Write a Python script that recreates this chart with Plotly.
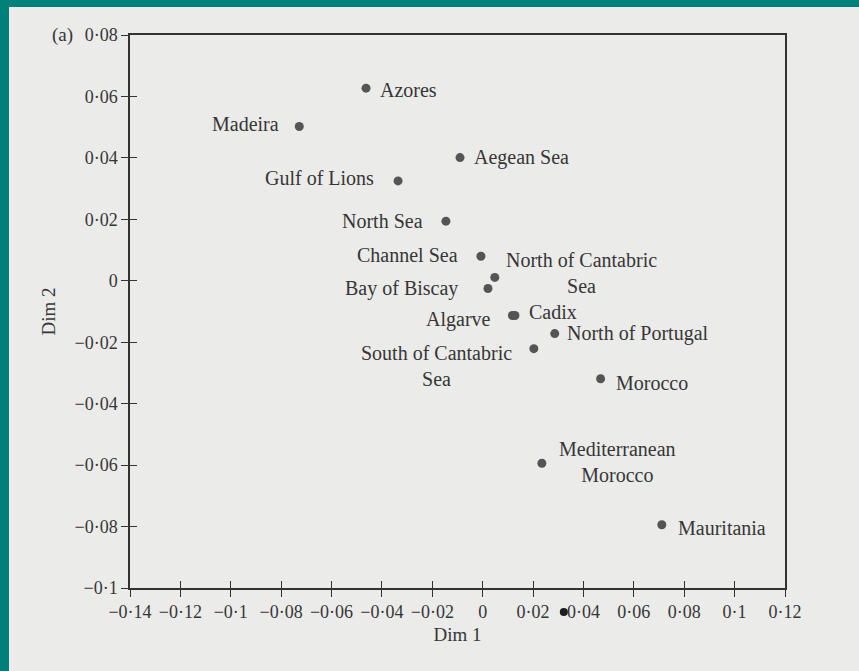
import plotly.graph_objects as go

# ---- data ----
regions = ["Azores", "Madeira", "Aegean Sea", "Gulf of Lions", "North Sea",
           "Channel Sea", "North of Cantabric<br>Sea", "Bay of Biscay", "Algarve",
           "Cadix", "North of Portugal", "South of Cantabric<br>Sea", "Morocco",
           "Mediterranean<br>Morocco", "Mauritania"]
dim1 = [-0.0463, -0.0728, -0.0090, -0.0336, -0.0146,
        -0.0007, 0.0048, 0.0021, 0.0118,
        0.0128, 0.0286, 0.0203, 0.0468,
        0.0235, 0.0711]
dim2 = [0.0627, 0.0502, 0.0401, 0.0325, 0.0194,
        0.0080, 0.0011, -0.0025, -0.0113,
        -0.0113, -0.0172, -0.0221, -0.0319,
        -0.0594, -0.0794]

x_ticks = [-0.14, -0.12, -0.1, -0.08, -0.06, -0.04, -0.02, 0, 0.02, 0.04, 0.06, 0.08, 0.1, 0.12]
x_tick_labels = ["\u22120\u00b714", "\u22120\u00b712", "\u22120\u00b71", "\u22120\u00b708", "\u22120\u00b706",
                 "\u22120\u00b704", "\u22120\u00b702", "0", "0\u00b702", "0\u00b704", "0\u00b706",
                 "0\u00b708", "0\u00b71", "0\u00b712"]
y_ticks = [-0.1, -0.08, -0.06, -0.04, -0.02, 0, 0.02, 0.04, 0.06, 0.08]
y_tick_labels = ["\u22120\u00b71", "\u22120\u00b708", "\u22120\u00b706", "\u22120\u00b704", "\u22120\u00b702",
                 "0", "0\u00b702", "0\u00b704", "0\u00b706", "0\u00b708"]

# ---- label placement (style only) ----
# (xanchor, xshift px, yshift px)
label_pos = [
    ("left", 12, -2), ("right", -18, 3), ("left", 12, 0), ("right", -22, 3), ("right", -21, 0),
    ("right", -21, 1), ("center", 87, 4), ("right", -28, 0), ("right", -19, -4),
    ("left", 12, 3), ("left", 10, 0), ("center", -97, -17), ("left", 13, -4),
    ("center", 76, 1), ("left", 14, -3),
]

FONT = "Liberation Serif"
TXT = "#363636"
LINE = "#333333"
TEAL = "#00807a"
PAPER = "#ebebea"
LABEL_SIZE = 20
TICK_SIZE = 18

W, H = 859, 671
L, R, T, B = 130, 74, 35, 83
PW, PH = W - L - R, H - T - B

fig = go.Figure()
fig.add_trace(go.Scatter(
    x=dim1, y=dim2, mode="markers",
    marker=dict(size=9, color="#555555"),
    hoverinfo="text", text=[r.replace("<br>", " ") for r in regions],
    showlegend=False,
))
# invisible trace for the inner-tick overlay axes
fig.add_trace(go.Scatter(x=[0], y=[0], xaxis="x2", yaxis="y2", mode="markers",
                         marker=dict(opacity=0), hoverinfo="skip", showlegend=False))

annotations = []
for name, xv, yv, (anc, xs, ys) in zip(regions, dim1, dim2, label_pos):
    annotations.append(dict(x=xv, y=yv, xref="x", yref="y", text=name, showarrow=False,
                            xanchor=anc, yanchor="middle", xshift=xs, yshift=ys,
                            align="center", font=dict(family=FONT, size=LABEL_SIZE, color=TXT)))
annotations.append(dict(x=(62 - L) / PW, y=1.0, xref="paper", yref="paper", text="(a)",
                        showarrow=False, xanchor="center", yanchor="middle",
                        font=dict(family=FONT, size=19, color=TXT)))

axis_common = dict(showgrid=False, zeroline=False, linecolor=LINE, linewidth=1.5,
                   tickcolor=LINE, tickwidth=1.2, ticklen=7,
                   tickfont=dict(family=FONT, size=TICK_SIZE, color=TXT))

shapes = [
    dict(type="rect", xref="paper", yref="paper", layer="below",
         x0=(9 - L) / PW, x1=(W + 20 - L) / PW,
         y0=-(B + 20) / PH, y1=1 + (T - 7) / PH,
         fillcolor=PAPER, line=dict(width=0)),
    # scan artefact: small dark blot between two tick labels
    dict(type="circle", xref="x", yref="paper",
         x0=0.0322 - 0.0016, x1=0.0322 + 0.0016,
         y0=-(24 + 4) / PH, y1=-(24 - 4) / PH,
         fillcolor="#1e1e1e", line=dict(width=0)),
]

fig.update_layout(
    width=W, height=H,
    margin=dict(l=L, r=R, t=T, b=B),
    paper_bgcolor=TEAL,
    plot_bgcolor="rgba(0,0,0,0)",
    font=dict(family=FONT, color=TXT),
    xaxis=dict(range=[-0.14, 0.12], tickvals=x_ticks, ticktext=x_tick_labels,
               ticks="outside", showline=True, mirror=True,
               title=dict(text="Dim 1", font=dict(family=FONT, size=19, color=TXT), standoff=6),
               **axis_common),
    yaxis=dict(range=[-0.1, 0.08], tickvals=y_ticks, ticktext=y_tick_labels,
               ticks="outside", showline=True, mirror=True,
               title=dict(text="Dim 2", font=dict(family=FONT, size=19, color=TXT), standoff=14),
               **axis_common),
    xaxis2=dict(range=[-0.14, 0.12], tickvals=x_ticks, overlaying="x", side="bottom",
                ticks="inside", showticklabels=False, showline=False, showgrid=False,
                zeroline=False, tickcolor=LINE, tickwidth=1.2, ticklen=7),
    yaxis2=dict(range=[-0.1, 0.08], tickvals=y_ticks, overlaying="y", side="left",
                ticks="inside", showticklabels=False, showline=False, showgrid=False,
                zeroline=False, tickcolor=LINE, tickwidth=1.2, ticklen=7),
    annotations=annotations,
    shapes=shapes,
)

fig.write_html(
    "out.html",
    config={"displayModeBar": False},
    post_script=("document.body.style.margin='0';"
                 "document.body.style.overflow='hidden';"
                 "document.body.style.background='%s';" % TEAL),
)
